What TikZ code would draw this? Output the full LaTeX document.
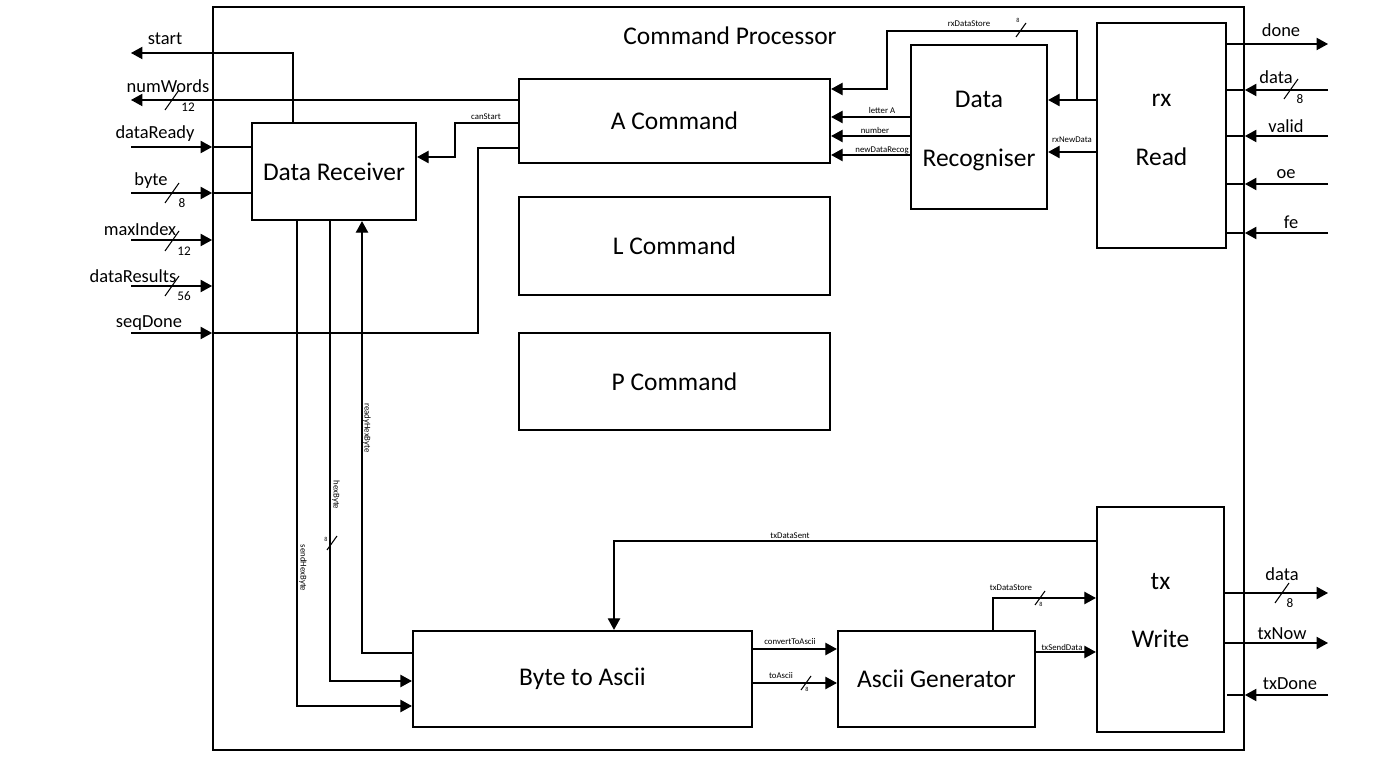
\documentclass[tikz,border=0pt]{standalone}
\usepackage{fontspec}
\setmainfont{Carlito}
\usetikzlibrary{arrows.meta}

\begin{document}
\begin{tikzpicture}[ >={Triangle[length=6.5pt,width=7pt]}, x=0.02cm, y=-0.02cm,
    blk/.style={draw, line width=1.3pt, inner sep=0pt, align=center, font=\fontsize{14.5}{17.5}\selectfont},
    blktxt/.style={inner sep=0pt, align=center, font=\fontsize{14.5}{17.5}\selectfont},
    wire/.style={line width=0.6pt},
    port/.style={inner sep=0pt, font=\fontsize{10.5}{12}\selectfont},
    bus/.style={inner sep=0pt, font=\fontsize{7.5}{9}\selectfont},
    sig/.style={inner sep=0pt, font=\fontsize{5}{6}\selectfont},
    tiny/.style={inner sep=0pt, font=\fontsize{3.5}{4}\selectfont} ]

    \useasboundingbox (0,0) rectangle (1397,759);

% Khung ngoài

    \node[draw, line width=1.2pt, inner sep=0pt, minimum width=20.62cm, minimum height=14.86cm] (cp) at (728.5,378.5) {};
    \node[blktxt] (cpTitle) at (730,36) {Command Processor};

% Khối

    \node[blk, minimum width=3.28cm, minimum height=1.94cm] (dr) at (334,171.5) {Data Receiver};
    \node[blk, minimum width=6.22cm, minimum height=1.68cm] (acmd) at (674.5,121) {A Command};
    \node[blk, minimum width=6.22cm, minimum height=1.96cm] (lcmd) at (674.5,246) {L Command};
    \node[blk, minimum width=6.22cm, minimum height=1.94cm] (pcmd) at (674.5,381.5) {P Command};
    \node[blk, minimum width=2.72cm, minimum height=3.28cm] (drec) at (979,127) {};
    \node[blk, minimum width=2.58cm, minimum height=4.5cm] (rxr) at (1161.5,135.5) {};
    \node[blk, minimum width=2.54cm, minimum height=4.5cm] (txw) at (1160.5,619.5) {};
    \node[blk, minimum width=6.78cm, minimum height=1.92cm] (b2a) at (582.5,679) {Byte to Ascii};
    \node[blk, minimum width=3.94cm, minimum height=1.92cm] (agen) at (936.5,679) {Ascii Generator};

    \node[blktxt] (drecTxt) at (979,131) {Data\\[16pt]Recogniser};
    \node[blktxt] (rxrTxt) at (1161.5,130) {rx\\[16pt]Read};
    \node[blktxt] (txwTxt) at (1160.5,610.5) {tx\\[15pt]Write};

% Cổng

    \coordinate (pStart) at (131,53);
    \coordinate (pNumWords) at (131,100);
    \coordinate (pDataReady) at (131,147);
    \coordinate (pByte) at (131,193);
    \coordinate (pMaxIndex) at (131,240);
    \coordinate (pDataResults) at (131,286);
    \coordinate (pSeqDone) at (131,333);
    \coordinate (pDone) at (1328,44);
    \coordinate (pData) at (1328,90);
    \coordinate (pValid) at (1328,136);
    \coordinate (pOe) at (1328,184);
    \coordinate (pFe) at (1328,233);
    \coordinate (pTxData) at (1328,593);
    \coordinate (pTxNow) at (1328,643);
    \coordinate (pTxDone) at (1328,695);

% Dây bên trái

    \draw[wire,->] (dr.north -| 293,0) |- (pStart);
    \draw[wire,->] (acmd.west |- pNumWords) -- (pNumWords);
    \foreach \p in {pDataReady,pByte} {
        \draw[wire,->] (\p) -- (\p -| cp.west);
        \draw[wire] (\p -| cp.west) -- (\p -| dr.west);
    }
    \foreach \p in {pMaxIndex,pDataResults,pSeqDone}
        \draw[wire,->] (\p) -- (\p -| cp.west);
    \draw[wire] (pSeqDone -| cp.west) -| (478,148) -- (acmd.west |- 0,148);
    \draw[wire,->] (acmd.west |- 0,123) -| (455,157) -- (dr.east |- 0,157);

% Dây bên phải

    \draw[wire,->] (rxr.east |- pDone) -- (pDone);
    \foreach \p in {pData,pValid,pOe,pFe,pTxDone} {
        \draw[wire,->] (\p) -- (\p -| cp.east);
        \draw[wire] (\p -| cp.east) -- (\p -| rxr.east);
    }
    \draw[wire,->] (txw.east |- pTxData) -- (pTxData);
    \draw[wire,->] (txw.east |- pTxNow) -- (pTxNow);

% Dây rx

    \draw[wire,->] (rxr.west |- 0,100) -- (drec.east |- 0,100);
    \draw[wire,->] (rxr.west |- 0,152) -- (drec.east |- 0,152);
    \draw[wire,->] (1077,100) |- (887,31) -- (887,89) -- (acmd.east |- 0,89);
    \foreach \y in {117,136,155}
        \draw[wire,->] (drec.west |- 0,\y) -- (acmd.east |- 0,\y);

% Dây tx

    \draw[wire,->] (txw.west |- 0,541) -| (b2a.north -| 614,0);
    \draw[wire,->] (agen.north -| 993,0) |- (txw.west |- 0,598);
    \draw[wire,->] (agen.east |- 0,652) -- (txw.west |- 0,652);
    \draw[wire,->] (b2a.east |- 0,649) -- (agen.west |- 0,649);
    \draw[wire,->] (b2a.east |- 0,683) -- (agen.west |- 0,683);
    \draw[wire,->] (dr.south -| 297,0) |- (b2a.west |- 0,706);
    \draw[wire,->] (dr.south -| 330,0) |- (b2a.west |- 0,681);
    \draw[wire,->] (b2a.west |- 0,653) -| (dr.south -| 362,0);

% Gạch bus

    \foreach \x/\y in {172/100, 172/193, 172/241, 172/286, 1291/89, 1282/593}
        \draw[wire] (\x,\y) +(-7,10) -- +(7,-10);
    \foreach \x/\y in {1021/30, 1040/598, 806/683, 332/543}
        \draw[wire] (\x,\y) +(-5,7) -- +(5,-7);

% Nhãn

    \node[port] (lStart) at (165,39) {start};
    \node[port] (lNumWords) at (168,86) {numWords};
    \node[port] (lDataReady) at (155,134) {dataReady};
    \node[port] (lByte) at (151,181) {byte};
    \node[port] (lMaxIndex) at (140,229) {maxIndex};
    \node[port] (lDataResults) at (133,276) {dataResults};
    \node[port] (lSeqDone) at (149,323) {seqDone};
    \node[port] (lDone) at (1281,30) {done};
    \node[port] (lData) at (1276,77) {data};
    \node[port] (lValid) at (1286,126) {valid};
    \node[port] (lOe) at (1286,174) {oe};
    \node[port] (lFe) at (1291,222) {fe};
    \node[port] (lTxData) at (1282,574) {data};
    \node[port] (lTxNow) at (1282,634) {txNow};
    \node[port] (lTxDone) at (1290,684) {txDone};

    \node[bus] (wNumWords) at (188,107) {12};
    \node[bus] (wByte) at (182,203) {8};
    \node[bus] (wMaxIndex) at (184,251) {12};
    \node[bus] (wDataResults) at (184,296) {56};
    \node[bus] (wData) at (1300,99) {8};
    \node[bus] (wTxData) at (1290,603) {8};

    \node[sig] (lCanStart) at (486,117) {canStart};
    \node[sig] (lRxDataStore) at (969,24) {rxDataStore};
    \node[sig] (lLetterA) at (882,110) {letter A};
    \node[sig] (lNumber) at (875,130) {number};
    \node[sig, anchor=east] (lNewData) at (909,150) {newDataRecog};
    \node[sig] (lRxNewData) at (1072,140) {rxNewData};
    \node[sig] (lTxDataSent) at (790,536) {txDataSent};
    \node[sig] (lTxDataStore) at (1011,588) {txDataStore};
    \node[sig] (lTxSendData) at (1062,647) {txSendData};
    \node[sig] (lConvert) at (790,642) {convertToAscii};
    \node[sig] (lToAscii) at (781,676) {toAscii};
    \node[sig, rotate=-90] (lSendHex) at (303,568) {sendHexByte};
    \node[sig, rotate=-90] (lHexByte) at (336,495) {hexByte};
    \node[sig, rotate=-90] (lReadyHex) at (367,428) {readyHexByte};

    \node[tiny] (wRxStore) at (1018,20) {8};
    \node[tiny] (wTxStore) at (1041,604) {8};
    \node[tiny] (wToAscii) at (807,689) {8};
    \node[tiny] (wHexByte) at (326,539) {8};

\end{tikzpicture}
\end{document}
